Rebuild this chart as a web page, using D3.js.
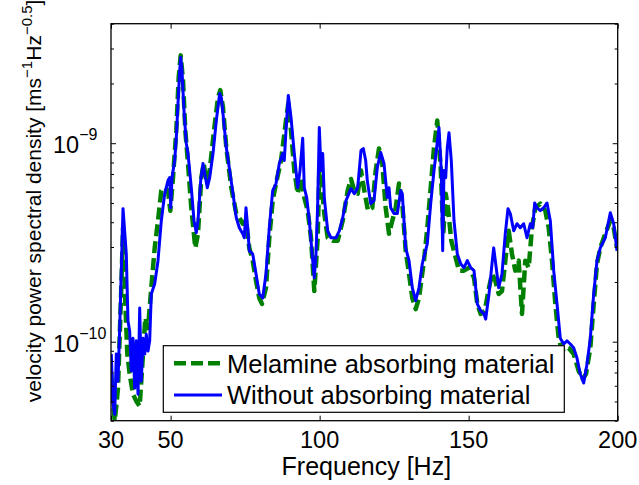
<!DOCTYPE html>
<html><head><meta charset="utf-8">
<script src="https://cdn.jsdelivr.net/npm/d3@7"></script>
<style>body{margin:0;background:#fff} text{font-family:"Liberation Sans",Arial,Helvetica,sans-serif;fill:#000}</style>
</head><body><svg id="c" width="639" height="485"></svg>
<script>
// ---- data ----
const seriesNames = ["Melamine absorbing material", "Without absorbing material"];
const xTicks = [30, 50, 100, 150, 200];
const yMajorTicks = [1e-10, 1e-9];
const yMajorExp = ["−10", "−9"];

const melFreq = [30.1,30.67,31.24,31.78,32.35,33.46,34.03,34.6,35.47,36.27,37.38,38.49,39.63,40.74,41.51,42.41,43.52,44.66,45.77,46.88,48.02,49.12,49.9,50.8,51.91,52.71,53.38,54.16,54.93,55.83,56.94,58.28,59.19,60.3,61.1,61.97,63.11,64.56,65.9,66.67,67.58,68.68,70.36,72.04,73.05,74.19,75.29,76.4,77.54,78.65,79.75,80.66,82.0,83.11,84.25,85.36,87.04,88.71,89.49,90.39,91.5,92.64,93.75,94.85,96.0,97.1,98.21,99.35,99.89,100.79,101.56,102.7,104.38,106.06,107.74,109.41,110.52,111.63,112.77,113.88,114.98,116.22,117.66,118.81,119.91,121.02,122.16,123.27,124.38,125.52,126.62,127.73,128.87,129.98,131.09,132.23,133.33,135.01,136.12,137.26,138.37,139.47,140.61,141.48,142.29,143.06,144.17,145.31,146.75,148.43,150.11,151.79,152.89,154.03,155.38,156.82,157.83,158.94,160.08,161.18,162.29,163.43,164.53,165.64,166.78,167.89,168.99,170.14,171.24,172.35,174.03,175.71,176.85,177.96,179.07,180.2,181.31,182.42,183.56,185.24,186.91,188.25,189.36,190.81,191.95,193.06,194.16,195.84,197.52,198.66,199.77];
const melVal = [6.87e-11,5.02e-11,4.0e-11,4.74e-11,5.84e-11,1.87e-10,3.75e-10,1.87e-10,8.67e-11,6.87e-11,5.44e-11,5.02e-11,4.74e-11,8.67e-11,1.32e-10,1.17e-10,1.87e-10,2.97e-10,4.07e-10,5.77e-10,5.97e-10,5.77e-10,4.57e-10,6.71e-10,1.16e-9,2.15e-9,2.77e-9,2.07e-9,1.16e-9,7.9e-10,4.73e-10,2.97e-10,3.5e-10,6.71e-10,7.9e-10,6.48e-10,7.28e-10,1.16e-9,1.7e-9,1.85e-9,1.51e-9,9.51e-10,5.97e-10,4.42e-10,4.21e-10,3.93e-10,4.07e-10,2.97e-10,2.56e-10,2.03e-10,1.66e-10,1.55e-10,1.87e-10,3.34e-10,5.14e-10,6.26e-10,8.18e-10,1.3e-9,1.59e-9,1.16e-9,7.28e-10,5.57e-10,6.71e-10,5.32e-10,4.57e-10,3.34e-10,1.8e-10,3.34e-10,7.28e-10,5.97e-10,4.42e-10,3.34e-10,3.23e-10,3.23e-10,4.07e-10,5.77e-10,6.6e-10,5.77e-10,5.57e-10,7.28e-10,5.77e-10,4.57e-10,4.73e-10,7.28e-10,9.4e-10,7.9e-10,4.73e-10,3.5e-10,4.07e-10,4.73e-10,6.26e-10,4.96e-10,2.87e-10,2.2e-10,1.66e-10,1.46e-10,1.66e-10,2.56e-10,3.75e-10,5.97e-10,9.51e-10,1.3e-9,7.54e-10,3.5e-10,5.57e-10,4.73e-10,3.23e-10,2.77e-10,2.28e-10,2.28e-10,2.36e-10,2.1e-10,1.55e-10,1.38e-10,1.43e-10,1.87e-10,2.2e-10,2.03e-10,1.74e-10,1.8e-10,2.56e-10,3.62e-10,2.77e-10,2.28e-10,2.56e-10,1.38e-10,2.56e-10,2.36e-10,3.75e-10,4.73e-10,4.96e-10,4.57e-10,3.75e-10,2.56e-10,1.55e-10,1.04e-10,8.97e-11,9.4e-11,9.29e-11,8.67e-11,7.11e-11,6.48e-11,6.87e-11,9.29e-11,1.55e-10,2.47e-10,2.97e-10,3.5e-10,4.07e-10,3.75e-10,2.97e-10];

const noFreq = [30.1,30.67,31.24,31.78,32.35,32.92,34.03,35.13,35.7,36.27,36.81,37.38,37.95,38.49,39.06,39.63,40.17,40.74,41.31,41.84,42.41,42.98,43.52,44.66,45.77,46.88,48.02,49.12,49.69,50.03,50.47,51.37,51.91,52.48,53.05,53.38,53.82,54.49,55.26,55.83,56.94,57.85,58.62,59.19,60.09,60.87,61.44,62.31,63.11,64.22,65.33,66.47,67.01,67.58,68.68,69.82,70.93,72.04,73.05,74.19,74.72,75.29,75.86,76.4,77.54,78.65,79.75,80.9,82.0,83.11,84.25,85.36,86.47,87.61,88.14,88.71,89.49,90.39,91.5,92.64,93.41,94.32,94.85,95.66,96.53,97.67,98.21,98.78,99.35,99.89,100.46,101.03,101.56,102.7,103.81,105.49,106.6,107.74,108.84,110.52,111.63,112.77,113.88,114.65,115.45,115.99,117.13,118.24,119.34,120.48,121.59,122.7,123.27,123.84,124.95,126.06,127.19,127.73,128.87,129.98,131.09,132.23,133.33,134.44,136.12,137.26,138.37,139.27,140.04,140.81,141.28,141.72,142.29,142.83,143.4,144.17,145.08,146.18,147.32,148.43,149.54,150.68,151.79,152.89,154.03,155.14,155.71,156.82,157.93,158.4,158.94,160.08,161.18,162.29,163.19,163.97,165.11,166.21,167.32,168.46,169.57,170.67,171.48,172.15,172.92,174.03,175.17,176.28,177.39,178.53,179.64,180.74,181.88,182.99,184.1,185.24,186.34,187.45,188.59,189.7,190.81,191.95,193.06,194.16,195.84,196.98,197.52,198.66,199.77];
const noVal = [8.67e-11,4.85e-11,4.31e-11,8.67e-11,6.33e-11,1.17e-10,4.68e-10,2.77e-10,1.27e-10,1.13e-10,7.11e-11,1.04e-10,5.84e-11,1.01e-10,5.44e-11,1.48e-10,6.33e-11,1.04e-10,8.67e-11,1.09e-10,8.97e-11,1.01e-10,1.74e-10,1.96e-10,2.56e-10,4.07e-10,5.57e-10,6.48e-10,6.71e-10,4.73e-10,6.71e-10,8.18e-10,1.07e-9,1.59e-9,2.33e-9,2.71e-9,2.33e-9,1.46e-9,1.0e-9,8.87e-10,5.97e-10,4.07e-10,3.54e-10,4.07e-10,6.48e-10,7.9e-10,7.03e-10,5.97e-10,6.71e-10,8.87e-10,1.3e-9,1.78e-9,1.7e-9,1.41e-9,9.51e-10,7.28e-10,5.57e-10,4.21e-10,3.75e-10,3.5e-10,3.34e-10,4.73e-10,3.75e-10,2.87e-10,2.77e-10,2.2e-10,1.74e-10,1.66e-10,2.2e-10,3.75e-10,5.77e-10,6.26e-10,7.9e-10,8.87e-10,8.18e-10,1.16e-9,1.74e-9,1.35e-9,8.87e-10,5.97e-10,7.28e-10,1.06e-9,5.97e-10,5.32e-10,4.07e-10,2.56e-10,2.1e-10,2.77e-10,4.96e-10,1.2e-9,7.28e-10,8.87e-10,5.32e-10,3.62e-10,3.34e-10,3.34e-10,3.62e-10,4.21e-10,5.14e-10,5.9e-10,5.57e-10,5.97e-10,9.19e-10,9.4e-10,8.18e-10,6.48e-10,4.96e-10,5.14e-10,7.54e-10,8.98e-10,7.9e-10,5.32e-10,5.97e-10,4.73e-10,4.42e-10,4.42e-10,5.77e-10,5.57e-10,2.97e-10,2.56e-10,1.87e-10,1.61e-10,1.87e-10,2.47e-10,3.12e-10,4.96e-10,7.28e-10,9.51e-10,1.2e-9,7.28e-10,2.87e-10,7.28e-10,6.71e-10,9.51e-10,1.13e-9,8.18e-10,4.07e-10,2.77e-10,2.47e-10,2.36e-10,2.56e-10,2.36e-10,2.28e-10,1.55e-10,1.43e-10,1.38e-10,1.3e-10,1.74e-10,2.56e-10,2.97e-10,2.56e-10,1.87e-10,2.2e-10,3.5e-10,4.68e-10,4.42e-10,3.62e-10,3.93e-10,3.75e-10,3.93e-10,3.34e-10,3.93e-10,3.75e-10,5.0e-10,4.73e-10,4.57e-10,4.73e-10,5.0e-10,4.07e-10,2.28e-10,1.55e-10,1.04e-10,9.74e-11,1.01e-10,9.74e-11,9.29e-11,8.27e-11,6.87e-11,6.19e-11,7.72e-11,1.04e-10,1.74e-10,2.56e-10,2.97e-10,3.34e-10,4.07e-10,4.46e-10,3.93e-10,2.87e-10];

// ---- layout ----
const svg = d3.select("#c");
const L = 111, R = 617.7, T = 23.7, B = 420.7;
const x = d3.scaleLinear().domain([30, 200]).range([L, R]);
const y = d3.scaleLog().domain([4e-11, 4e-9]).range([B, T]);

svg.append("rect").attr("width", 639).attr("height", 485).attr("fill", "#fff");
svg.append("defs").append("clipPath").attr("id", "clip")
  .append("rect").attr("x", L).attr("y", T).attr("width", R - L).attr("height", B - T);

const line = (fs, vs) => d3.line().x((d, i) => x(fs[i])).y((d, i) => y(vs[i]))(fs);

const g = svg.append("g").attr("clip-path", "url(#clip)");
g.append("path").attr("d", line(melFreq, melVal)).attr("fill", "none")
  .attr("stroke", "#008000").attr("stroke-width", 4.5).attr("stroke-dasharray", "12,5")
  .attr("stroke-linejoin", "round");
g.append("path").attr("d", line(noFreq, noVal)).attr("fill", "none")
  .attr("stroke", "#0000ff").attr("stroke-width", 3).attr("stroke-linejoin", "round");

// ---- axes (ticks inside, on all four sides) ----
const axB = d3.axisBottom(x).tickValues(xTicks).tickSize(-5).tickFormat("");
const axT = d3.axisTop(x).tickValues(xTicks).tickSize(-5).tickFormat("");
const minor = [];
[1e-11, 1e-10, 1e-9].forEach(d => { for (let k = 2; k <= 9; k++) { const v = k * d; if (v >= 4e-11 && v <= 4e-9) minor.push(v); } });
const axL = d3.axisLeft(y).tickValues(yMajorTicks).tickSize(-5).tickFormat("");
const axR = d3.axisRight(y).tickValues(yMajorTicks).tickSize(-5).tickFormat("");
const axLm = d3.axisLeft(y).tickValues(minor).tickSize(-3).tickFormat("");
const axRm = d3.axisRight(y).tickValues(minor).tickSize(-3).tickFormat("");
[[axB, `translate(0,${B})`], [axT, `translate(0,${T})`], [axL, `translate(${L},0)`], [axR, `translate(${R},0)`],
 [axLm, `translate(${L},0)`], [axRm, `translate(${R},0)`]].forEach(([a, t]) => {
  const s = svg.append("g").attr("transform", t).call(a);
  s.select(".domain").remove();
  s.selectAll("line").attr("stroke", "#000").attr("stroke-width", 1);
});
svg.append("rect").attr("x", L).attr("y", T).attr("width", R - L).attr("height", B - T)
  .attr("fill", "none").attr("stroke", "#000").attr("stroke-width", 1.3);

// x tick labels
svg.append("g").selectAll("text").data(xTicks).join("text")
  .attr("x", d => x(d)).attr("y", B + 27).attr("text-anchor", "middle")
  .attr("font-size", 23.5).text(d => d);
// y tick labels (10^exp)
yMajorTicks.forEach((v, i) => {
  const t = svg.append("text").attr("x", 53).attr("y", y(v) + 10).attr("font-size", 23.5);
  t.append("tspan").text("10");
  t.append("tspan").attr("dy", -13).attr("font-size", 16).text(yMajorExp[i]);
});

// axis titles
svg.append("text").attr("x", (L + R) / 2 + 2).attr("y", 475).attr("text-anchor", "middle")
  .attr("font-size", 25).text("Frequency [Hz]");
const yl = svg.append("text").attr("transform", "translate(41,201) rotate(-90)")
  .attr("text-anchor", "middle").attr("font-size", 21);
yl.append("tspan").text("velocity power spectral density [ms");
yl.append("tspan").attr("dy", -9).attr("font-size", 15).text("−1");
yl.append("tspan").attr("dy", 9).text("Hz");
yl.append("tspan").attr("dy", -9).attr("font-size", 15).text("−0.5");
yl.append("tspan").attr("dy", 9).text("]");

// legend
const lg = svg.append("g");
lg.append("rect").attr("x", 163.3).attr("y", 345.7).attr("width", 401).attr("height", 66.6)
  .attr("fill", "#fff").attr("stroke", "#000").attr("stroke-width", 1.2);
lg.append("line").attr("x1", 174).attr("x2", 222).attr("y1", 363.3).attr("y2", 363.3)
  .attr("stroke", "#008000").attr("stroke-width", 4.5).attr("stroke-dasharray", "12,5");
lg.append("line").attr("x1", 174).attr("x2", 222).attr("y1", 395).attr("y2", 395)
  .attr("stroke", "#0000ff").attr("stroke-width", 3);
lg.append("text").attr("x", 227).attr("y", 373).attr("font-size", 25.5).text(seriesNames[0]);
lg.append("text").attr("x", 227).attr("y", 404).attr("font-size", 25.5).text(seriesNames[1]);
</script></body></html>
